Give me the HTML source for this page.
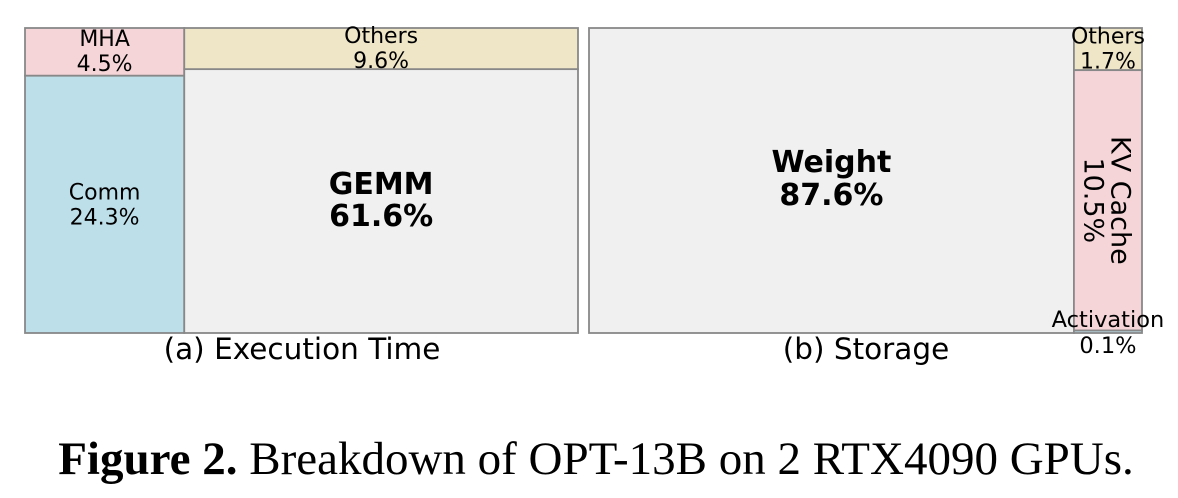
<!DOCTYPE html>
<html><head><meta charset="utf-8"><style>
html,body{margin:0;padding:0;background:#fff;width:1178px;height:498px;overflow:hidden}
svg{display:block}
text{font-family:"DejaVu Sans","Liberation Sans",sans-serif;fill:#000}
</style></head><body>
<svg id="chart" width="1178" height="498">
<g id="panelA"></g>
<g id="panelB"></g>
<text x="302" y="359" text-anchor="middle" font-size="29.5">(a) Execution Time</text>
<text x="866" y="359" text-anchor="middle" font-size="29.5">(b) Storage</text>
<text x="596" y="474" text-anchor="middle" font-size="47" style='font-family:"Liberation Serif",serif'><tspan font-weight="bold">Figure 2.</tspan> Breakdown of OPT-13B on 2 RTX4090 GPUs.</text>
</svg>
<script>
// Execution time breakdown (%)
const timeLabels = ["Comm","MHA","GEMM","Others"];
const timeValues = [24.3, 4.5, 61.6, 9.6];
const timeColors = ["#bddfea","#f5d5d8","#f0f0f0","#efe6c8"];
// Storage breakdown (%)
const storeLabels = ["Weight","Others","KV Cache","Activation"];
const storeValues = [87.6, 1.7, 10.5, 0.1];
const storeColors = ["#f0f0f0","#efe6c8","#f5d5d8","#bddfea"];

const NS="http://www.w3.org/2000/svg";
const TOP=28, BOT=333;
function mk(tag, attrs, parent){const e=document.createElementNS(NS,tag);for(const k in attrs)e.setAttribute(k,attrs[k]);parent.appendChild(e);return e;}
function rect(g,x,y,w,h,fill,name){
  const r=mk('rect',{x:x,y:y,width:w,height:h,fill:fill,stroke:'#888888','stroke-width':1.8},g);
  
  
}
function label(g,cx,cy,l1,l2,opt){
  const t=mk('text',{'text-anchor':'middle','font-size':opt.size,'font-weight':opt.bold?'bold':'normal'},g);
  if(opt.rot) t.setAttribute('transform','rotate(90 '+cx+' '+cy+')');
  
  
  const gap=opt.gap;
  const a=mk('tspan',{x:cx,y:cy-gap/2+opt.size*0.36},t);a.textContent=l1;
  const b=mk('tspan',{x:cx,y:cy+gap/2+opt.size*0.36},t);b.textContent=l2;
}
function fmt(v){return v.toFixed(1)+'%';}

(function(){
  const g=document.getElementById('panelA');
  const X0=25, X1=578, W=X1-X0, H=BOT-TOP;
  const tot=timeValues.reduce((a,b)=>a+b,0);
  const c1=timeValues[0]+timeValues[1], c2=timeValues[2]+timeValues[3];
  const w1=W*c1/tot, w2=W*c2/tot;
  const hM=H*timeValues[1]/c1, hO=H*timeValues[3]/c2;
  rect(g,X0,TOP+hM,w1,H-hM,timeColors[0],'comm');
  rect(g,X0,TOP,w1,hM,timeColors[1],'mha');
  rect(g,X0+w1,TOP+hO,w2,H-hO,timeColors[2],'gemm');
  rect(g,X0+w1,TOP,w2,hO,timeColors[3],'others-time');
  label(g,X0+w1/2,(TOP+hM+BOT)/2,timeLabels[0],fmt(timeValues[0]),{size:22,gap:25});
  label(g,X0+w1/2,TOP+hM/2-1,timeLabels[1],fmt(timeValues[1]),{size:22,gap:25});
  label(g,X0+w1+w2/2,(TOP+hO+BOT)/2-2,timeLabels[2],fmt(timeValues[2]),{size:30,gap:32,bold:true});
  label(g,X0+w1+w2/2,TOP+hO/2-1,timeLabels[3],fmt(timeValues[3]),{size:22,gap:25});
})();

(function(){
  const g=document.getElementById('panelB');
  const X0=589, X1=1142, W=X1-X0, H=BOT-TOP;
  const tot=storeValues.reduce((a,b)=>a+b,0);
  const w1=W*storeValues[0]/tot;
  const rest=storeValues[1]+storeValues[2]+storeValues[3];
  const w2=W-w1;
  const hO=H*storeValues[1]/rest, hK=H*storeValues[2]/rest, hA=H*storeValues[3]/rest;
  rect(g,X0,TOP,w1,H,storeColors[0],'weight');
  rect(g,X0+w1,TOP,w2,hO,storeColors[1],'others-storage');
  rect(g,X0+w1,TOP+hO,w2,hK,storeColors[2],'kv-cache');
  rect(g,X0+w1,TOP+hO+hK,w2,hA,storeColors[3],'activation');
  const cx=X0+w1+w2/2;
  label(g,X0+w1/2,TOP+H/2-3,storeLabels[0],fmt(storeValues[0]),{size:30,gap:33,bold:true});
  label(g,cx,TOP+hO/2-1,storeLabels[1],fmt(storeValues[1]),{size:22,gap:25});
  label(g,cx,TOP+hO+hK/2,storeLabels[2],fmt(storeValues[2]),{size:27,gap:27,rot:true});
  label(g,cx,TOP+hO+hK+hA/2,storeLabels[3],fmt(storeValues[3]),{size:22.5,gap:26});
})();
</script>
</body></html>
